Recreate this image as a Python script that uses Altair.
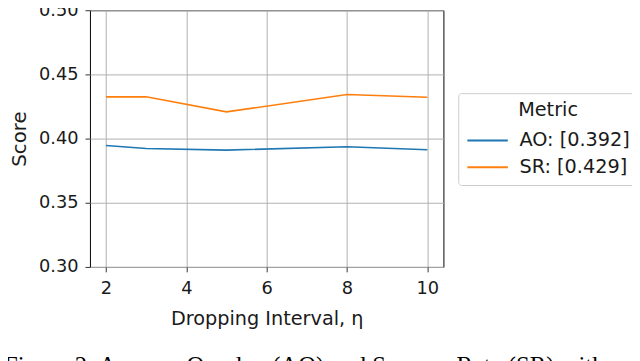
import altair as alt
import pandas as pd

# Data
intervals = [2, 3, 5, 8, 10]
ao_scores = [0.3946, 0.3923, 0.3910, 0.3936, 0.3913]
sr_scores = [0.4325, 0.4326, 0.4208, 0.4343, 0.4322]
series_names = ["AO: [0.392]", "SR: [0.429]"]
series_colors = ["#1f77b4", "#ff7f0e"]
x_ticks = [2, 4, 6, 8, 10]
y_ticks = [0.30, 0.35, 0.40, 0.45, 0.50]
caption = "Figure 2: Average Overlap (AO) and Success Rate (SR) with"

rows = []
for name, vals in zip(series_names, [ao_scores, sr_scores]):
    for x, v in zip(intervals, vals):
        rows.append({"interval": x, "score": v, "Metric": name})
df = pd.DataFrame(rows)

FONT = "DejaVu Sans"
TXT = "#1a1a1a"

lines = alt.Chart(df).mark_line(strokeWidth=1.6).encode(
    x=alt.X("interval:Q",
            scale=alt.Scale(domain=[1.6, 10.4], nice=False, zero=False),
            axis=alt.Axis(values=x_ticks, title="Dropping Interval, η",
                          format="d", tickSize=5, labelPadding=8,
                          titlePadding=12, titleFontSize=19.5)),
    y=alt.Y("score:Q",
            scale=alt.Scale(domain=[0.30, 0.50], nice=False, zero=False),
            axis=alt.Axis(values=y_ticks, title="Score", format=".2f",
                          tickSize=5, labelPadding=7, titlePadding=9,
                          titleFontSize=20)),
    color=alt.Color("Metric:N",
                    scale=alt.Scale(domain=series_names, range=series_colors),
                    legend=alt.Legend(orient="none", legendX=373, legendY=84,
                                      symbolType="M-1,0H3", symbolSize=420,
                                      symbolStrokeWidth=2, labelOffset=31,
                                      rowPadding=6, padding=8,
                                      titleAnchor="middle", titlePadding=9)),
)

cap_df = pd.DataFrame({"t": [caption]})
cap = alt.Chart(cap_df).mark_text(
    align="left", baseline="alphabetic", font="Liberation Serif",
    fontSize=25, color="#000000"
).encode(text="t:N", x=alt.value(-87), y=alt.value(368))

chart = alt.layer(lines, cap).properties(
    width=358, height=260,
    autosize=alt.AutoSizeParams(type="none"),
    padding={"left": 83, "top": 0, "right": 191, "bottom": 93},
).configure_view(
    stroke="#000000", strokeWidth=1
).configure_axis(
    labelFont=FONT, titleFont=FONT, labelFontSize=18, titleFontSize=19.5,
    labelColor=TXT, titleColor=TXT, titleFontWeight="normal",
    gridColor="#b0b0b0", gridWidth=1, tickColor="#333333",
    domain=False, labelFlush=False
).configure_legend(
    labelFont=FONT, titleFont=FONT, labelFontSize=19.5, titleFontSize=19.5,
    labelColor=TXT, titleColor=TXT, titleFontWeight="normal",
    strokeColor="#cccccc", fillColor="#ffffff", cornerRadius=3
)

chart.save("out.html", embed_options={"renderer": "svg", "actions": False})
